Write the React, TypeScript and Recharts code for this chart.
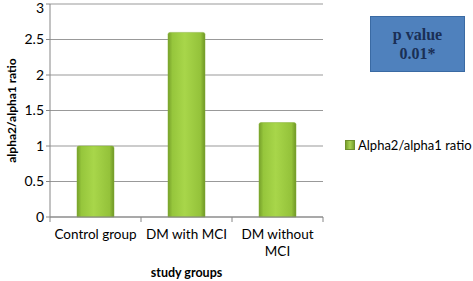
import React from 'react';
import { BarChart, Bar, XAxis, YAxis, CartesianGrid } from 'recharts';

const groups = ['Control group', 'DM with MCI', 'DM without MCI'];
const ratioValues = [1.0, 2.6, 1.33];
const yTicks = [0, 0.5, 1, 1.5, 2, 2.5, 3];
const seriesName = 'Alpha2/alpha1 ratio';

const data = groups.map((g, i) => ({ group: g, ratio: ratioValues[i] }));

const FONT = 'Lato, "Open Sans", sans-serif';

// category tick: label (wrapped if long) plus boundary tick marks like Excel
function GroupTick(props: any) {
  const { x, y, payload, index, visibleTicksCount } = props;
  const half = payload.offset || 0;
  const label: string = payload.value;
  const lines = label === 'DM without MCI' ? ['DM without', 'MCI'] : [label];
  const isLast = index === visibleTicksCount - 1;
  return (
    <g>
      <line x1={x - half} x2={x - half} y1={y - 8} y2={y - 3} stroke="#868686" />
      {isLast && <line x1={x + half} x2={x + half} y1={y - 8} y2={y - 3} stroke="#868686" />}
      <text x={x} y={y + 14} textAnchor="middle" fontFamily={FONT} fontSize={13.5} fill="#000">
        {lines.map((l, i) => (
          <tspan key={l} x={x} dy={i === 0 ? 0 : 17}>
            {l}
          </tspan>
        ))}
      </text>
    </g>
  );
}

export default function App() {
  return (
    <div style={{ position: 'absolute', left: 0, top: 0, width: 473, height: 281, background: '#fff' }}>
      <BarChart
        width={473}
        height={281}
        data={data}
        margin={{ top: 4, right: 150, bottom: 0, left: 0 }}
        barSize={37}
      >
        <defs>
          <linearGradient id="barGreen" x1="0" y1="0" x2="1" y2="0">
            <stop offset="0%" stopColor="#76a02a" />
            <stop offset="12%" stopColor="#96c63c" />
            <stop offset="45%" stopColor="#a8d64a" />
            <stop offset="88%" stopColor="#94c23a" />
            <stop offset="100%" stopColor="#6f9626" />
          </linearGradient>
        </defs>
        <CartesianGrid vertical={false} stroke="#999" strokeWidth={1} />
        <YAxis
          domain={[0, 3]}
          ticks={yTicks}
          width={50}
          axisLine={{ stroke: '#868686' }}
          tickLine={{ stroke: '#868686' }}
          tickSize={4}
          tick={{ fontFamily: FONT, fontSize: 14, fill: '#000' }}
          label={{
            value: 'alpha2/alpha1 ratio',
            angle: -90,
            position: 'insideLeft',
            offset: 12,
            style: { fontFamily: FONT, fontSize: 12, fontWeight: 700, fill: '#000', textAnchor: 'middle' },
          }}
        />
        <XAxis
          dataKey="group"
          height={64}
          interval={0}
          axisLine={{ stroke: '#868686' }}
          tickLine={false}
          tick={<GroupTick />}
          label={{
            value: 'study groups',
            position: 'insideBottom',
            offset: 4,
            style: { fontFamily: FONT, fontSize: 12.5, fontWeight: 700, fill: '#000' },
          }}
        />
        <Bar dataKey="ratio" name={seriesName} fill="url(#barGreen)" stroke="#86b036" strokeWidth={0.5} radius={[2, 2, 0, 0]} isAnimationActive={false} />
      </BarChart>
      <div
        style={{
          position: 'absolute',
          left: 345,
          top: 137,
          display: 'flex',
          alignItems: 'center',
          fontFamily: FONT,
          fontSize: 13,
          color: '#000',
          whiteSpace: 'nowrap',
        }}
      >
        <span
          style={{
            display: 'inline-block',
            width: 8,
            height: 8,
            marginRight: 3,
            background: 'linear-gradient(to right, #7aa22e, #a9d252, #7aa22e)',
            border: '1px solid #6f8f2c',
          }}
        />
        {seriesName}
      </div>
      <div
        style={{
          position: 'absolute',
          left: 370,
          top: 16,
          width: 95,
          height: 56,
          background: '#4f81bd',
          border: '1px solid #3a6aa3',
          boxSizing: 'border-box',
          display: 'flex',
          flexDirection: 'column',
          justifyContent: 'center',
          alignItems: 'center',
          fontFamily: '"Liberation Serif", "DejaVu Serif", serif',
          fontWeight: 700,
          fontSize: 16,
          lineHeight: '19px',
          color: '#1a2f55',
        }}
      >
        <div>p value</div>
        <div>0.01*</div>
      </div>
    </div>
  );
}
